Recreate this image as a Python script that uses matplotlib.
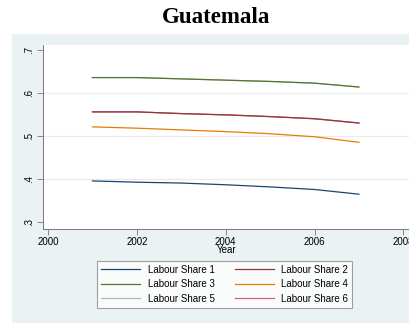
import matplotlib
matplotlib.use('Agg')
import matplotlib.pyplot as plt
from matplotlib.patches import Rectangle

years = [2001, 2002, 2003, 2004, 2005, 2006, 2007]
ls1 = [0.395, 0.392, 0.390, 0.386, 0.381, 0.375, 0.364]
ls2 = [0.556, 0.556, 0.552, 0.549, 0.545, 0.540, 0.530]
ls3 = [0.636, 0.636, 0.633, 0.630, 0.627, 0.623, 0.614]
ls4 = [0.521, 0.518, 0.514, 0.510, 0.505, 0.498, 0.485]
ls5 = ls3
ls6 = ls2
xticks = [2000, 2002, 2004, 2006, 2008]
yticks = [0.3, 0.4, 0.5, 0.6, 0.7]
ylabels = ['.3', '.4', '.5', '.6', '.7']

W, H = 410, 323
plt.rcParams['font.family'] = ['Liberation Sans', 'DejaVu Sans']
fig = plt.figure(figsize=(W/100, H/100), dpi=100)
fig.patch.set_facecolor('white')
# graph region
bg = Rectangle((12/W, 0), 1, 1 - 34/H, transform=fig.transFigure,
               facecolor='#eaf2f3', edgecolor='none', zorder=-10)
fig.add_artist(bg)

ax = fig.add_axes([42.7/W, 1 - 228.5/H, (W - 42.7)/W, (228.5 - 45)/H])
ax.set_facecolor('white')
ax.set_xlim(1999.88, 2008.15)
ax.set_ylim(0.284, 0.712)

series = [
  (ls1, 'Labour Share 1', '#1a476f', 3),
  (ls2, 'Labour Share 2', '#90353b', 3),
  (ls3, 'Labour Share 3', '#55752f', 3),
  (ls4, 'Labour Share 4', '#e37e00', 3),
  (ls5, 'Labour Share 5', '#a9bdb5', 2),
  (ls6, 'Labour Share 6', '#d0607a', 2),
]
handles = []
for y, lab, c, z in series:
  h, = ax.plot(years, y, color=c, lw=0.9, label=lab, zorder=z)
  handles.append(h)

for v in [0.4, 0.5, 0.6]:
  ax.axhline(v, color='#eaeaea', lw=0.9, zorder=1)

ax.set_xticks(xticks)
ax.set_xticklabels([str(t) for t in xticks], fontsize=7)
ax.set_yticks(yticks)
ax.set_yticklabels(ylabels, fontsize=7, rotation=90, va='center')
ax.tick_params(direction='out', length=4, width=0.6, color='#777777', pad=2)
for s in ['top', 'right']:
  ax.spines[s].set_visible(False)
for s in ['left', 'bottom']:
  ax.spines[s].set_color('#777777')
  ax.spines[s].set_linewidth(0.7)
ax.set_xlabel('Year', fontsize=7, labelpad=-1)

# legend filled column by column: 1,3,5 | 2,4,6
order = [0, 2, 4, 1, 3, 5]
leg = fig.legend(handles=[handles[i] for i in order], loc='upper left', ncol=2,
                 bbox_to_anchor=(97/W, 1 - 260.5/H), borderaxespad=0,
                 fontsize=7, frameon=True, fancybox=False, handlelength=4.0,
                 columnspacing=2.1, handletextpad=0.75, borderpad=0.45,
                 labelspacing=0.45)
leg.get_frame().set_edgecolor('#888888')
leg.get_frame().set_linewidth(0.8)

fig.text(216/W, 1 - 17.5/H, 'Guatemala', ha='center', va='center',
         fontsize=16.5, fontweight='bold', family='Liberation Serif')

fig.savefig('out.png', dpi=100)
